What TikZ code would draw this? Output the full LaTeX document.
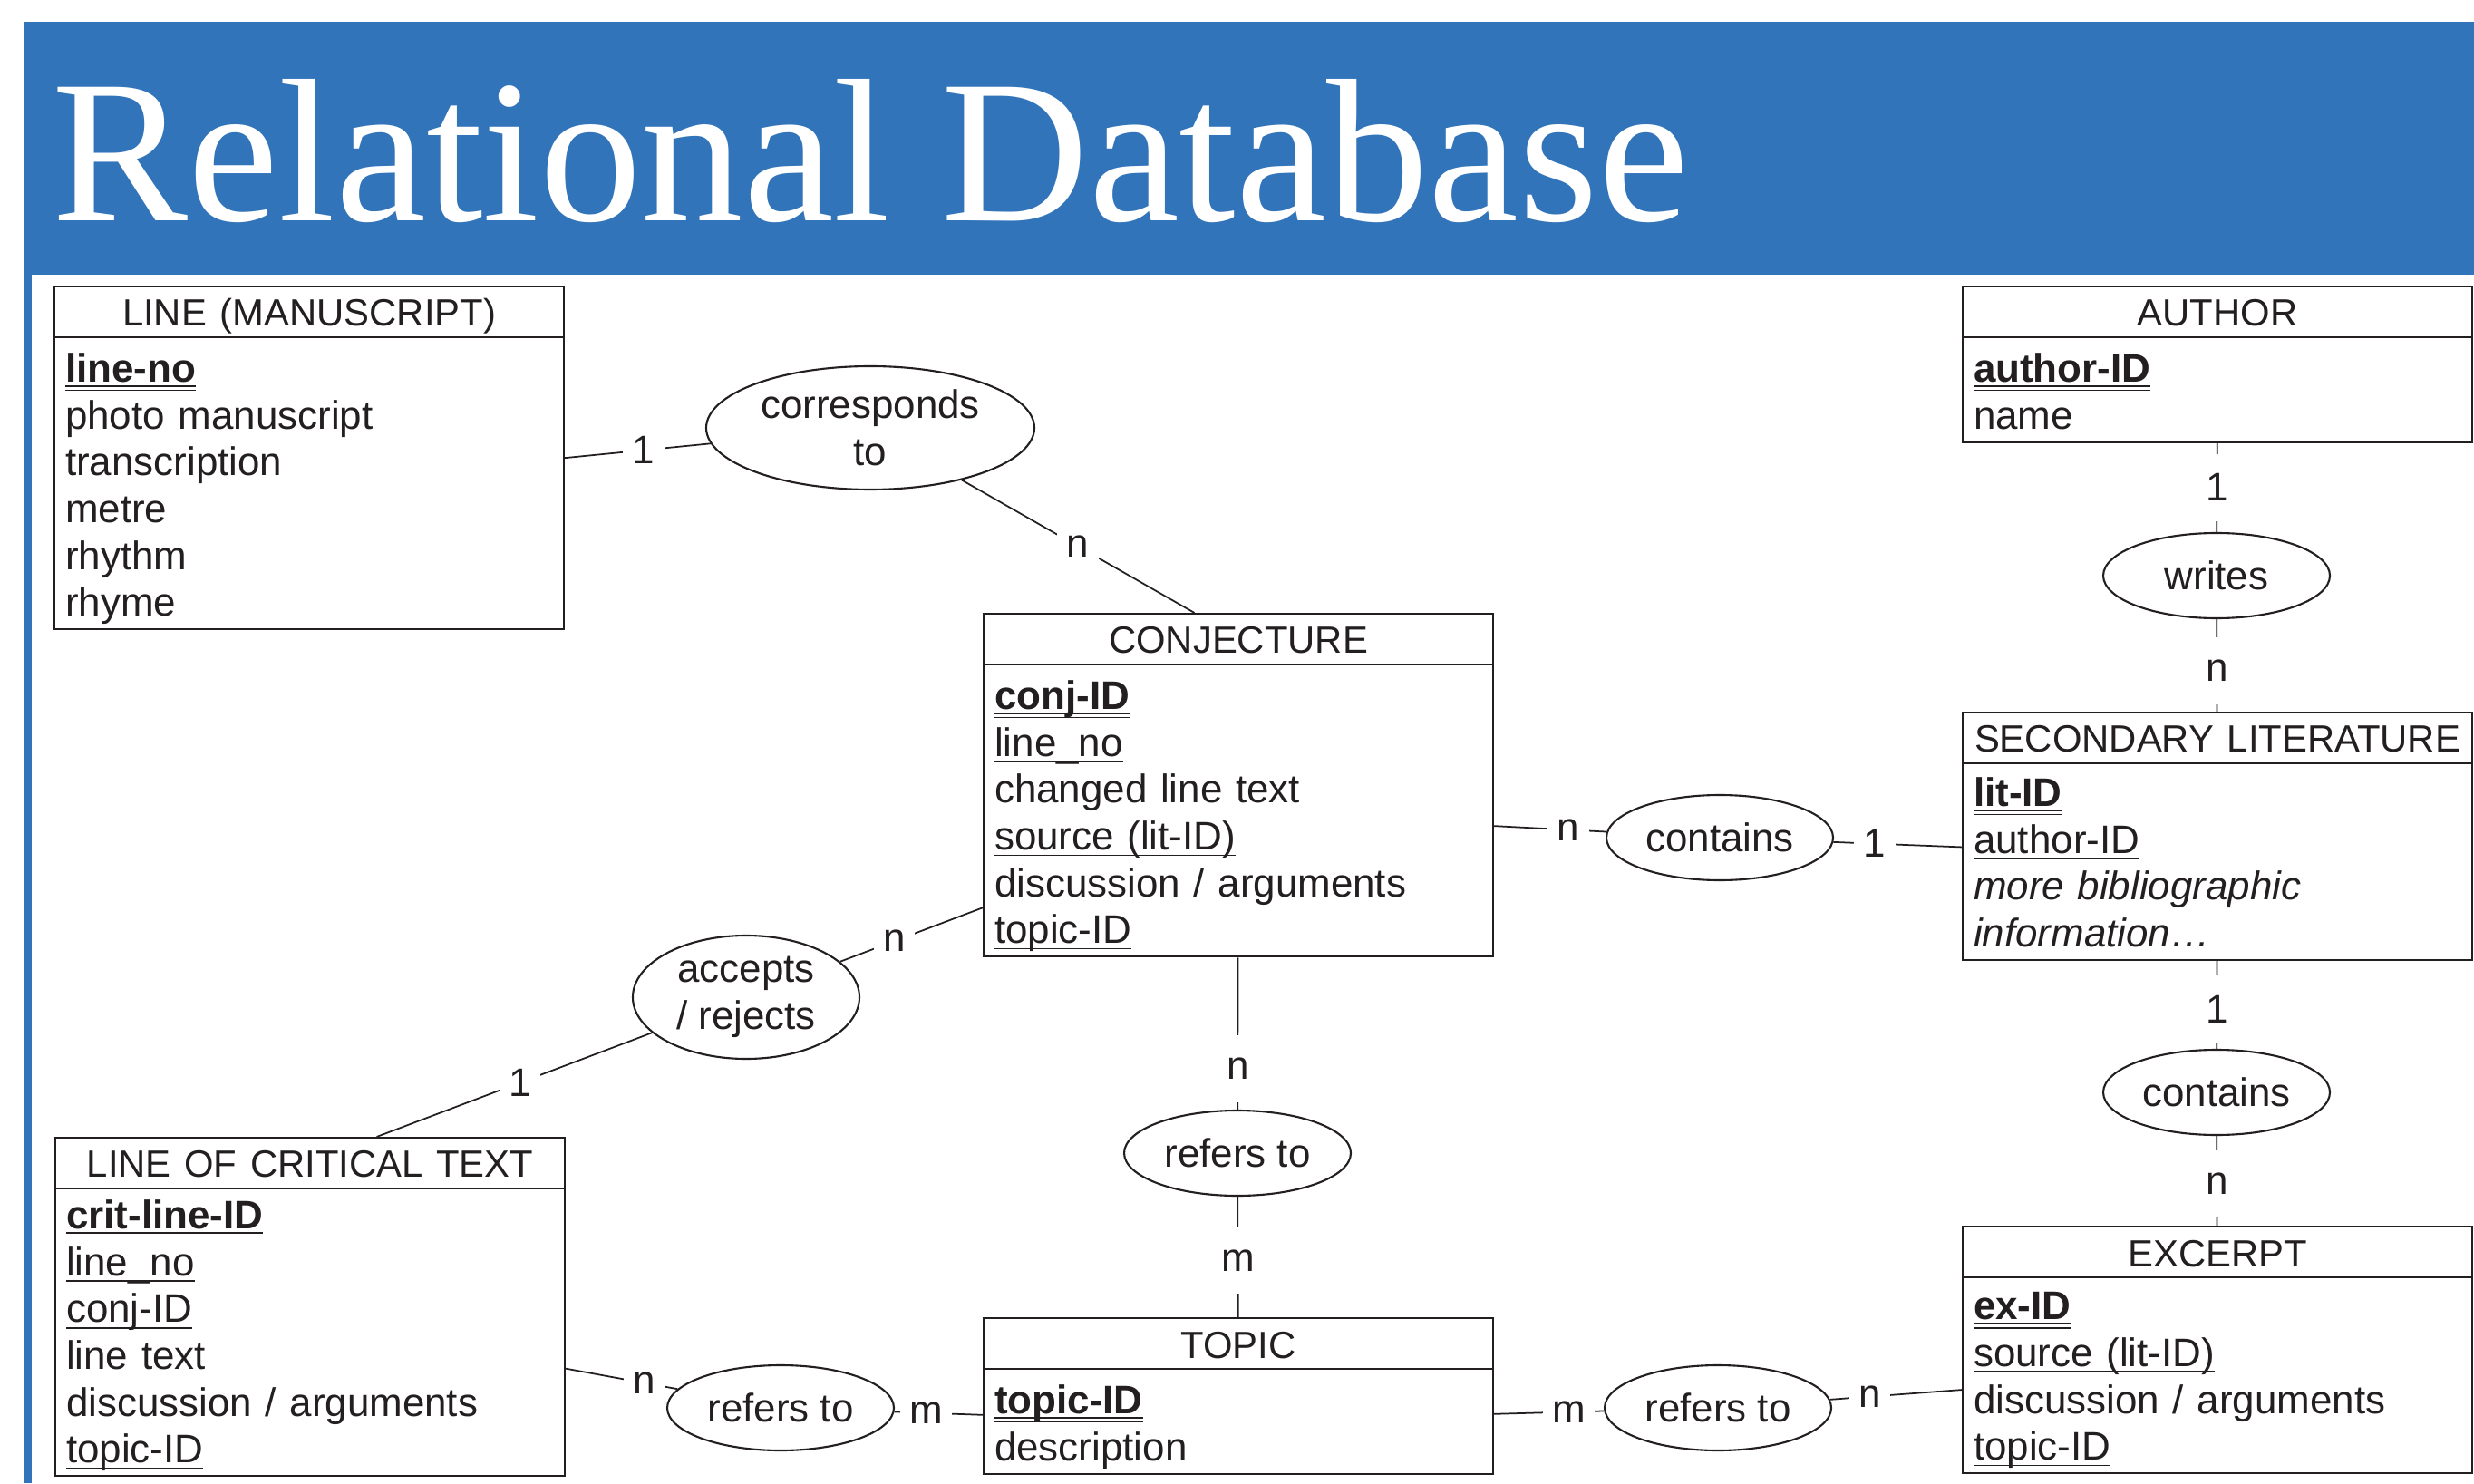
\documentclass[tikz,border=0pt]{standalone}
\usepackage{fontspec}
\setmainfont{Liberation Sans}
\newfontfamily\titlefont{Liberation Serif}
\usetikzlibrary{shapes.multipart, shapes.geometric}
\definecolor{myblue}{RGB}{49,116,186}
\definecolor{myink}{RGB}{35,31,32}

% keys: bold + double underline, foreign keys: single underline
\newcommand{\pk}[1]{\leavevmode\setbox0\hbox{\bfseries #1}\rlap{\rule[-1.5pt]{\wd0}{0.45pt}}\rlap{\rule[-2.8pt]{\wd0}{0.45pt}}\box0}
\newcommand{\fk}[1]{\leavevmode\setbox0\hbox{#1}\rlap{\rule[-1.9pt]{\wd0}{0.45pt}}\box0}
\newcommand{\headpart}[1]{\hbox to\hsize{\hss\fontsize{11.9}{14}\selectfont\rule[-3.1pt]{0pt}{15.3pt}#1\hss}}
\newcommand{\topstrut}[1][13.8pt]{\rule{0pt}{#1}}
\newcommand{\botstrut}{\rule[-3.8pt]{0pt}{3.8pt}}

\begin{document}
\begin{tikzpicture}[color=myink,
    entity/.style={rectangle split, rectangle split parts=2, draw, line width=0.6pt,
        text width=5.38cm, inner xsep=0.12cm, inner ysep=0pt, align=left,
        anchor=north west, font=\fontsize{12.5}{14.7}\selectfont},
    relation/.style={ellipse, draw, line width=0.6pt, minimum width=2.5cm,
        minimum height=0.94cm, inner sep=0pt, align=center,
        font=\fontsize{12.5}{14.7}\selectfont},
    card/.style={fill=white, inner xsep=3pt, inner ysep=0pt, minimum height=21pt,
        font=\fontsize{12.5}{14.7}\selectfont},
    link/.style={line width=0.5pt}]

    \useasboundingbox (0, 0) rectangle (27.29, 16.36);

    % title band
    \fill[myblue] (0.27, 16.12) rectangle (27.29, 13.33);
    \fill[myblue] (0.27, 13.33) rectangle (0.35, 0);
    \node[anchor=base west, inner sep=0pt, text=white,
        font=\titlefont\fontsize{64}{70}\selectfont] (title) at (0.57, 13.92) {Relational Database};

    % entities
    \node[entity] (lm) at (0.59, 13.21) {\headpart{LINE (MANUSCRIPT)}
        \nodepart{two}\topstrut\pk{line-no}\\photo manuscript\\transcription\\metre\\rhythm\\rhyme\botstrut};
    \node[entity] (conj) at (10.84, 9.60) {\headpart{CONJECTURE}
        \nodepart{two}\topstrut\pk{conj-ID}\\\fk{line\_no}\\changed line text\\\fk{source (lit-ID)}\\discussion / arguments\\\fk{topic-ID}\botstrut};
    \node[entity] (author) at (21.64, 13.21) {\headpart{AUTHOR}
        \nodepart{two}\topstrut\pk{author-ID}\\name\botstrut};
    \node[entity] (sl) at (21.64, 8.51) {\headpart{SECONDARY LITERATURE}
        \nodepart{two}\topstrut[13.2pt]\pk{lit-ID}\\\fk{author-ID}\\\textit{more bibliographic}\\\textit{information…}\botstrut};
    \node[entity] (lct) at (0.60, 3.82) {\headpart{LINE OF CRITICAL TEXT}
        \nodepart{two}\topstrut[12.4pt]\pk{crit-line-ID}\\\fk{line\_no}\\\fk{conj-ID}\\line text\\discussion / arguments\\\fk{topic-ID}\botstrut};
    \node[entity] (topic) at (10.84, 1.83) {\headpart{TOPIC}
        \nodepart{two}\topstrut\pk{topic-ID}\\description\botstrut};
    \node[entity] (ex) at (21.64, 2.84) {\headpart{EXCERPT}
        \nodepart{two}\topstrut[13pt]\pk{ex-ID}\\\fk{source (lit-ID)}\\discussion / arguments\\\fk{topic-ID}\botstrut};

    % relations
    \node[relation, minimum width=3.62cm, minimum height=1.36cm] (corr) at (9.60, 11.64) {corresponds\\to};
    \node[relation, minimum height=1.36cm] (acc) at (8.23, 5.36) {accepts\\/ rejects};
    \node[relation] (writes) at (24.45, 10.01) {writes};
    \node[relation] (cont1) at (18.97, 7.12) {contains};
    \node[relation] (cont2) at (24.45, 4.31) {contains};
    \node[relation] (ref1) at (13.65, 3.64) {refers to};
    \node[relation] (ref2) at (8.61, 0.83) {refers to};
    \node[relation] (ref3) at (18.95, 0.83) {refers to};

    % connectors
    \draw[link] (lm.east) -- node[card, pos=0.54] {1} (corr);
    \draw[link] (corr) -- node[card] {n} ([xshift=-0.485cm]conj.north);
    \draw[link] (author) -- node[card] {1} (writes);
    \draw[link] (writes) -- node[card, pos=0.56] {n} (sl);
    \draw[link] (sl) -- node[card, pos=0.55] {1} (cont2);
    \draw[link] (cont2) -- node[card, pos=0.53] {n} (ex);
    \draw[link] ([yshift=-0.45cm]conj.east) -- node[card, pos=0.66] {n} (cont1);
    \draw[link] (cont1) -- node[card, pos=0.32] {1} ([yshift=-0.12cm]sl.west);
    \draw[link] (conj) -- node[card, pos=0.73] {n} (ref1);
    \draw[link] (ref1) -- node[card, pos=0.53] {m} (topic);
    \draw[link] (acc) -- node[card, pos=0.38] {n} ([yshift=0.55cm]conj.south west);
    \draw[link] (acc) -- node[card, pos=0.48] {1} ([xshift=0.735cm]lct.north);
    \draw[link] ([yshift=-0.68cm]lct.east) -- node[card, pos=0.7] {n} (ref2);
    \draw[link] (ref2) -- node[card, pos=0.36] {m} ([yshift=-0.21cm]topic.west);
    \draw[link] ([yshift=-0.2cm]topic.east) -- node[card, pos=0.68] {m} (ref3);
    \draw[link] (ref3) -- node[card, pos=0.3] {n} ([yshift=-0.44cm]ex.west);

\end{tikzpicture}
\end{document}
